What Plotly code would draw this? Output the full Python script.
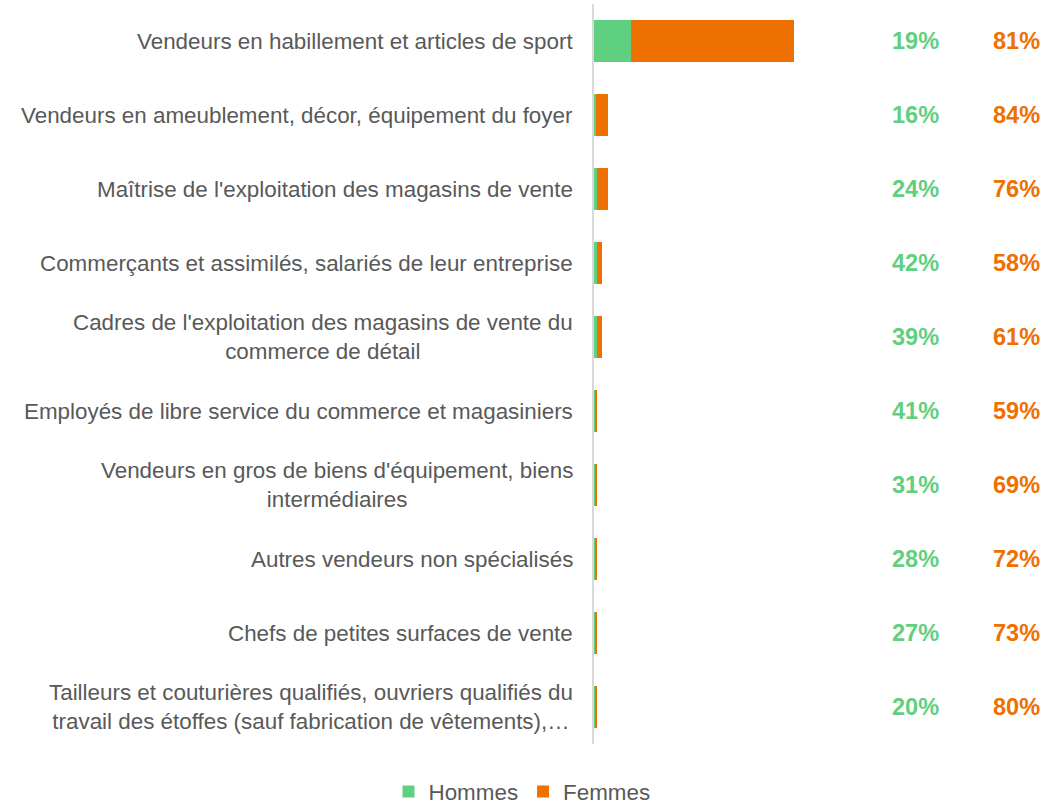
import plotly.graph_objects as go

categories = [
    "Vendeurs en habillement et articles de sport",
    "Vendeurs en ameublement, décor, équipement du foyer",
    "Maîtrise de l'exploitation des magasins de vente",
    "Commerçants et assimilés, salariés de leur entreprise",
    "Cadres de l'exploitation des magasins de vente du<br>commerce de détail",
    "Employés de libre service du commerce et magasiniers",
    "Vendeurs en gros de biens d'équipement, biens<br>intermédiaires",
    "Autres vendeurs non spécialisés",
    "Chefs de petites surfaces de vente",
    "Tailleurs et couturières qualifiés, ouvriers qualifiés du<br>travail des étoffes (sauf fabrication de vêtements),…",
]
hommes = [37, 2.2, 3.2, 3.2, 2.9, 1.2, 0.9, 0.85, 0.8, 0.6]
femmes = [163, 11.3, 10.3, 4.3, 4.6, 1.8, 2.1, 2.15, 2.2, 2.4]
pct_hommes = ["19%", "16%", "24%", "42%", "39%", "41%", "31%", "28%", "27%", "20%"]
pct_femmes = ["81%", "84%", "76%", "58%", "61%", "59%", "69%", "72%", "73%", "80%"]

GREEN = "#5FD080"
ORANGE = "#EE7000"
GRAY = "#595959"
FONT = "Liberation Sans, Arial, sans-serif"

W, H = 1061, 805
ml, mr, mt, mb = 594, 0, 4, 61
pw = W - ml - mr

fig = go.Figure()
fig.add_trace(go.Bar(y=categories, x=hommes, orientation="h", name="Hommes",
                     marker=dict(color=GREEN, line=dict(width=0))))
fig.add_trace(go.Bar(y=categories, x=femmes, orientation="h", name="Femmes",
                     marker=dict(color=ORANGE, line=dict(width=0))))

annotations = []
for cat, ph, pf in zip(categories, pct_hommes, pct_femmes):
    annotations.append(dict(x=0, xref="paper", y=cat, yref="y", text=cat,
                            xanchor="right", yanchor="middle", align="center",
                            xshift=-19, showarrow=False,
                            font=dict(family=FONT, size=22.4, color=GRAY)))
    annotations.append(dict(x=(915 - ml) / pw, xref="paper", y=cat, yref="y", text="<b>%s</b>" % ph,
                            xanchor="center", yanchor="middle", showarrow=False,
                            font=dict(family=FONT, size=23.5, color=GREEN)))
    annotations.append(dict(x=(1016 - ml) / pw, xref="paper", y=cat, yref="y", text="<b>%s</b>" % pf,
                            xanchor="center", yanchor="middle", showarrow=False,
                            font=dict(family=FONT, size=23.5, color=ORANGE)))

fig.update_layout(
    width=W, height=H,
    margin=dict(l=ml, r=mr, t=mt, b=mb, autoexpand=False),
    barmode="stack",
    bargap=0.43,
    plot_bgcolor="white", paper_bgcolor="white",
    font=dict(family=FONT, size=22.4, color=GRAY),
    annotations=annotations,
    showlegend=True,
    legend=dict(orientation="h", xref="container", yref="container",
                x=522 / W, xanchor="center",
                y=1 - 792 / H, yanchor="middle",
                font=dict(family=FONT, size=22.4, color=GRAY),
                itemwidth=30, traceorder="normal"),
    xaxis=dict(range=[0, pw], visible=False, fixedrange=True),
    yaxis=dict(autorange="reversed", showticklabels=False, showgrid=False,
               showline=True, linecolor="#D9D9D9", linewidth=2, ticks="",
               zeroline=False),
)

fig.write_html("out.html", config={"displayModeBar": False},
               post_script="document.body.style.margin='0';document.body.style.padding='0';")
